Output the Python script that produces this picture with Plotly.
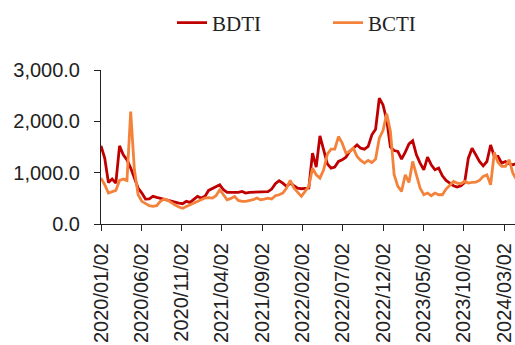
import pandas as pd
import plotly.graph_objects as go

# dates: every 14 days from 2020-01-02
dates = pd.date_range("2020-01-02", periods=113, freq="14D")

bdti = [1523, 1283, 810, 875, 797, 1523, 1348, 1250, 1089, 880,
        700, 603, 486, 490, 538, 518, 499, 486, 460, 434,
        421, 408, 395, 441, 421, 473, 538, 505, 538, 654,
        687, 719, 765, 667, 616, 616, 616, 616, 635, 603,
        616, 616, 616, 616, 616, 629, 680, 784, 842, 797,
        732, 797, 745, 700, 687, 687, 700, 1380, 1108, 1717,
        1445, 1173, 1089, 1108, 1218, 1251, 1302, 1413, 1477, 1542,
        1477, 1458, 1510, 1737, 1847, 2450, 2320, 2028, 1497, 1432,
        1413, 1264, 1400, 1560, 1620, 1348, 1186, 1056, 1302, 1153,
        1056, 1089, 940, 849, 797, 745, 719, 745, 810, 1283,
        1477, 1361, 1218, 1134, 1218, 1540, 1315, 1315, 1186, 1218,
        1173, 1153, 1180]

bcti = [894, 765, 603, 629, 654, 849, 875, 849, 2190, 1056,
        570, 441, 395, 356, 343, 356, 441, 486, 460, 408,
        369, 330, 305, 343, 376, 408, 428, 473, 505, 512,
        505, 551, 667, 570, 473, 499, 538, 460, 441, 441,
        454, 473, 505, 473, 486, 505, 486, 551, 570, 603,
        700, 849, 700, 616, 538, 635, 732, 1089, 959, 894,
        1056, 1361, 1458, 1458, 1704, 1575, 1380, 1413, 1477, 1315,
        1238, 1186, 1238, 1199, 1264, 1672, 1821, 2145, 1801, 959,
        732, 635, 959, 810, 1218, 959, 700, 570, 603, 551,
        603, 570, 570, 680, 765, 829, 797, 784, 829, 797,
        810, 816, 849, 927, 959, 765, 1393, 1199, 1121, 1121,
        1251, 991, 860]

tick_dates = ["2020-01-02", "2020-06-02", "2020-11-02", "2021-04-02", "2021-09-02",
              "2022-02-02", "2022-07-02", "2022-12-02", "2023-05-02", "2023-10-02",
              "2024-03-02"]
tick_text = [d.replace("-", "/") for d in tick_dates]

y_ticks = [0, 1000, 2000, 3000]

fig = go.Figure()
fig.add_trace(go.Scatter(x=dates, y=bdti, name="BDTI", mode="lines",
                         line=dict(color="#C00000", width=2.8)))
fig.add_trace(go.Scatter(x=dates, y=bcti, name="BCTI", mode="lines",
                         line=dict(color="#F4823A", width=2.8)))

fig.update_layout(
    width=515, height=345,
    margin=dict(l=101, r=0, t=70, b=121),
    paper_bgcolor="white", plot_bgcolor="white",
    showlegend=True,
    legend=dict(orientation="h", x=0.1715, xanchor="left", y=1.305, yanchor="middle",
                font=dict(family="Liberation Serif", size=21, color="#222222"),
                entrywidth=111, entrywidthmode="pixels",
                bgcolor="rgba(0,0,0,0)"),
    xaxis=dict(type="date", range=["2020-01-02", "2024-04-12"],
               tickvals=tick_dates, ticktext=tick_text, tickangle=-90,
               ticks="outside", ticklen=6, tickcolor="#222222",
               showline=True, linecolor="#222222", linewidth=1,
               showgrid=False, zeroline=False, ticklabelstandoff=4,
               tickfont=dict(family="Liberation Sans", size=20, color="#222222")),
    yaxis=dict(range=[0, 3000], tickvals=y_ticks, tickformat=",.1f",
               ticks="outside", ticklen=6, tickcolor="#222222",
               showline=True, linecolor="#222222", linewidth=1,
               showgrid=False, zeroline=False, ticklabelstandoff=10,
               tickfont=dict(family="Liberation Sans", size=20, color="#222222")),
)

fig.write_html("out.html")
